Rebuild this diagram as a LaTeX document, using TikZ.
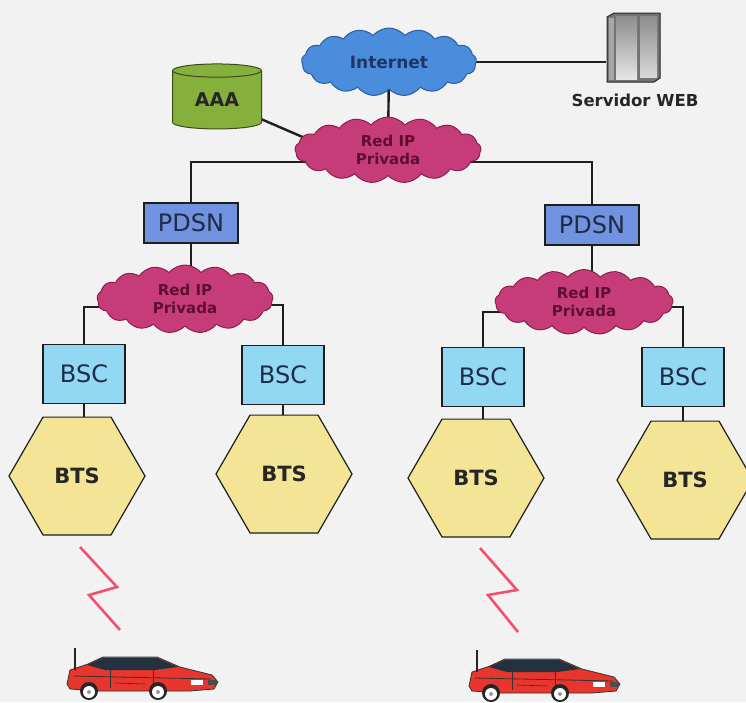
\documentclass[tikz,border=0pt]{standalone}
\usepackage{fontspec}
\setmainfont{DejaVu Sans}
\usetikzlibrary{shapes.geometric,shapes.symbols,backgrounds,calc}

\definecolor{bgc}{HTML}{F2F2F3}
\definecolor{inetblue}{HTML}{4A8DDC}
\definecolor{inetline}{HTML}{2B5C9E}
\definecolor{inettext}{HTML}{1E3566}
\definecolor{redip}{HTML}{C63C78}
\definecolor{redipline}{HTML}{8C1E50}
\definecolor{rediptext}{HTML}{5E0F30}
\definecolor{aaagreen}{HTML}{86B03E}
\definecolor{aaaline}{HTML}{3B4A1C}
\definecolor{pdsnblue}{HTML}{7192DE}
\definecolor{bsccyan}{HTML}{92D8F2}
\definecolor{btsyellow}{HTML}{F4E496}
\definecolor{boxtext}{HTML}{1F2B47}
\definecolor{wire}{HTML}{1E1E1E}
\definecolor{bolt}{HTML}{F2506E}
\definecolor{carred}{HTML}{E8352E}
\definecolor{glass}{HTML}{23323F}

\tikzset{
  wirestyle/.style={draw=wire, line width=2.4pt},
  netcloud/.style={cloud, cloud puffs=17, cloud puff arc=100, cloud ignores aspect,
    line width=1pt, inner sep=0pt, align=center},
  inetcloud/.style={netcloud, fill=inetblue, draw=inetline, text=inettext,
    font=\bfseries\fontsize{17}{20}\selectfont},
  privnet/.style={netcloud, fill=redip, draw=redipline, text=rediptext,
    minimum width=178pt, minimum height=66pt,
    font=\bfseries\fontsize{15}{18}\selectfont},
  pdsnbox/.style={rectangle, draw=wire, line width=1.2pt, fill=pdsnblue,
    minimum width=94pt, minimum height=40pt, inner sep=0pt, text=boxtext,
    font=\fontsize{24}{28}\selectfont},
  bscbox/.style={rectangle, draw=wire, line width=1.2pt, fill=bsccyan,
    minimum width=82pt, minimum height=59pt, inner sep=0pt, text=boxtext,
    font=\fontsize{24}{28}\selectfont},
  btshex/.style={regular polygon, regular polygon sides=6, minimum size=136pt,
    inner sep=0pt, draw=wire, line width=1.2pt, fill=btsyellow, text=black!85,
    font=\bfseries\fontsize{21}{24}\selectfont},
  boltline/.style={draw=bolt, line width=2.6pt},
  car/.pic={
    % body
    \draw[fill=carred, draw=black!80, line width=0.8pt]
      (2,-16) -- (5,-30) -- (23,-36) -- (38,-43) -- (92,-43) -- (115,-33)
      -- (147,-25) -- (153,-18) -- (149,-11) -- (125,-9) -- (35,-9) -- (5,-11) -- cycle;
    % windows
    \fill[glass] (22,-35) -- (38,-42) -- (92,-42) -- (113,-33) -- (90,-30) -- (40,-30) -- cycle;
    % side lines
    \draw[black!80, line width=0.8pt] (8,-24) -- (146,-21);
    \draw[black!80, line width=0.8pt] (45,-30) -- (45,-12) (88,-30) -- (88,-12);
    \draw[black!80, line width=0.6pt] (50,-17) -- (80,-16);
    % lights
    \fill[white] (126,-20) rectangle (138,-15);
    \fill[black!70] (143,-20) rectangle (152,-15);
    % wheels
    \foreach \wx in {24,93}{
      \fill[black!85] (\wx,-9) circle (9);
      \fill[white] (\wx,-8) circle (6);
      \fill[black!40] (\wx,-8) circle (2);
    }
    % antenna
    \draw[black!85, line width=1.2pt] (10,-30) -- (10,-52);
  }
}

\begin{document}
\begin{tikzpicture}[x=1pt, y=-1pt]
  \path[use as bounding box] (0,0) rectangle (746,702);

  % network elements
  \node[inetcloud, minimum width=175pt, minimum height=68pt] (inet) at (389,62) {Internet};
  \node[privnet, minimum width=186pt, minimum height=66pt] (redtop) at (388,150) {Red IP\\Privada};
  \node[cylinder, shape border rotate=90, aspect=0.3, draw=aaaline, line width=1pt,
        fill=aaagreen, minimum width=89pt, minimum height=65pt, inner sep=0pt,
        text=black!85, font=\bfseries\fontsize{19}{22}\selectfont] (aaa) at (217,100) {AAA};

  % web server
  \node[rectangle, minimum width=53pt, minimum height=69pt, inner sep=0pt] (server) at (633,47) {};
  \draw[fill=black!55, draw=black!85, line width=1pt]
    (607,17) -- (614,13) -- (660,13) -- (660,78) -- (654,82) -- (607,82) -- cycle;
  \fill[black!35] (609,18) rectangle (614,80);
  \shade[top color=black!45, bottom color=white!90!black] (616,16) rectangle (637,79);
  \shade[top color=black!45, bottom color=white!85!black] (640,16) rectangle (657,77);
  \node[font=\bfseries\fontsize{16.5}{19}\selectfont, text=black!85] (weblabel) at (635,100) {Servidor WEB};

  % access networks
  \node[pdsnbox] (pdsn1) at (191,223) {PDSN};
  \node[pdsnbox] (pdsn2) at (592,225) {PDSN};
  \node[privnet, minimum width=176pt, minimum height=68pt] (redL) at (185,299) {Red IP\\Privada};
  \node[privnet, minimum width=178pt, minimum height=65pt] (redR) at (584,302) {Red IP\\Privada};

  \node[bscbox] (bsc1) at (84,374) {BSC};
  \node[bscbox] (bsc2) at (283,375) {BSC};
  \node[bscbox] (bsc3) at (483,377) {BSC};
  \node[bscbox] (bsc4) at (683,377) {BSC};

  \node[btshex] (bts1) at (77,476) {BTS};
  \node[btshex] (bts2) at (284,474) {BTS};
  \node[btshex] (bts3) at (476,478) {BTS};
  \node[btshex] (bts4) at (685,480) {BTS};

  % radio links
  \draw[boltline] (80,547) -- (117,587) -- (89,595) -- (120,630);
  \draw[boltline] (480,548) -- (517,590) -- (488,595) -- (518,632);

  % mobiles
  \pic at (65,700) {car};
  \pic at (467,702) {car};

  % background and links behind the elements
  \begin{scope}[on background layer]
    \fill[bgc] (0,0) rectangle (746,702);
    \draw[wirestyle] (inet.center) -- (inet.center -| server.west);
    \draw[wirestyle] (inet.center) -- (redtop.center);
    \draw[wirestyle] (aaa.center) -- ($(redtop.center)+(-60,-2)$);
    \draw[wirestyle] ($(redtop.center)+(0,12)$) -| (pdsn1.center);
    \draw[wirestyle] ($(redtop.center)+(0,12)$) -| (pdsn2.center);
    \draw[wirestyle] (pdsn1.center) -- (pdsn1.center |- redL.center);
    \draw[wirestyle] (pdsn2.center) -- (pdsn2.center |- redR.center);
    \draw[wirestyle] ($(redL.center)+(0,8)$) -| (bsc1.center);
    \draw[wirestyle] ($(redL.center)+(0,6)$) -| (bsc2.center);
    \draw[wirestyle] ($(redR.center)+(0,10)$) -| (bsc3.center);
    \draw[wirestyle] ($(redR.center)+(0,5)$) -| (bsc4.center);
    \draw[wirestyle] (bsc1.center) -- (bsc1.center |- bts1.center);
    \draw[wirestyle] (bsc2.center) -- (bsc2.center |- bts2.center);
    \draw[wirestyle] (bsc3.center) -- (bsc3.center |- bts3.center);
    \draw[wirestyle] (bsc4.center) -- (bsc4.center |- bts4.center);
  \end{scope}
\end{tikzpicture}
\end{document}
